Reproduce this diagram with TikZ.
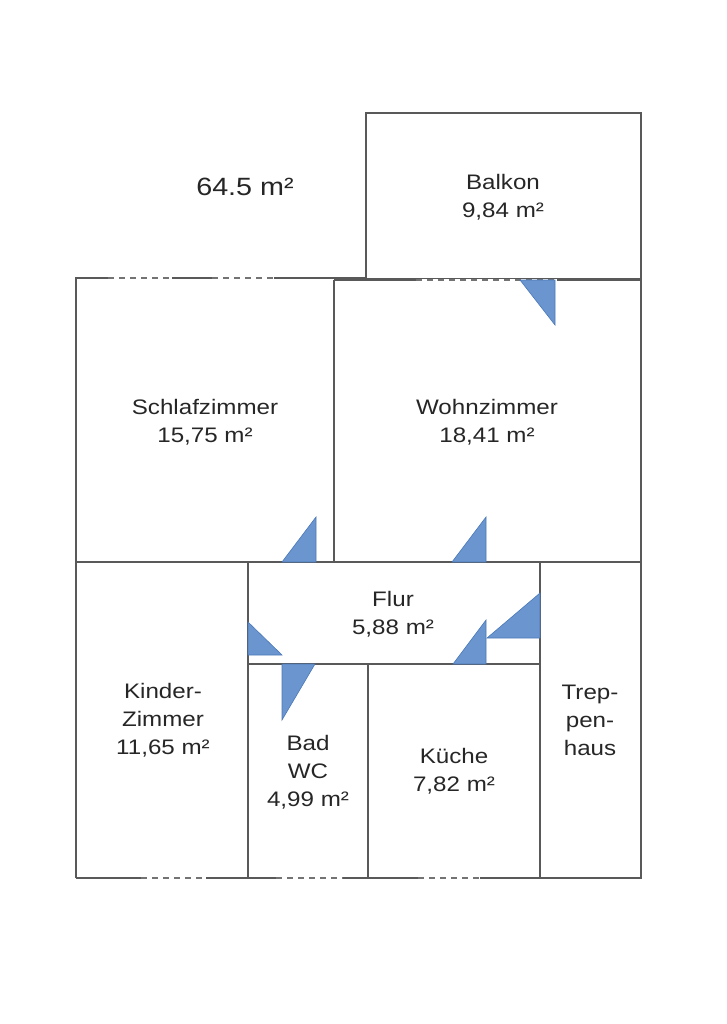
\documentclass[tikz,border=0pt]{standalone}
\usepackage{fontspec}
\setmainfont{Liberation Sans}
\begin{document}
\begin{tikzpicture}[x=1pt,y=-1pt,
  wall/.style={draw=black!65,line width=1.6pt},
  win/.style={draw=white,line width=2.4pt,postaction={draw=black!55,line width=1.6pt,dash pattern=on 6pt off 5pt}},
  door/.style={fill={rgb,255:red,106;green,149;blue,207},draw={rgb,255:red,74;green,120;blue,184},line width=0.6pt},
  lbl/.style={font=\fontsize{21}{28}\selectfont,align=center,text=black!85,xscale=1.15}]
\useasboundingbox (0,0) rectangle (726,1024);
% rooms
\draw[wall] (366,279) -- (366,113) -- (641,113) -- (641,279) -- (366,279);
\draw[wall] (76,878) -- (76,278) -- (366,278);
\draw[wall] (334,280) -- (641,280) -- (641,878) -- (76,878);
\draw[wall] (334,280) -- (334,562);
\draw[wall] (76,562) -- (641,562);
\draw[wall] (248,562) -- (248,878);
\draw[wall] (248,664) -- (540,664);
\draw[wall] (368,664) -- (368,878);
\draw[wall] (540,562) -- (540,878);
% windows
\draw[win] (108,278) -- (172,278);
\draw[win] (212,278) -- (274,278);
\draw[win] (416,280) -- (557,280);
\draw[win] (141,878) -- (206,878);
\draw[win] (276,878) -- (343,878);
\draw[win] (418,878) -- (480,878);
% doors
\path[door] (520,280) -- (555,280) -- (555,325) -- cycle;
\path[door] (282,562) -- (316,562) -- (316,517) -- cycle;
\path[door] (452,562) -- (486,562) -- (486,517) -- cycle;
\path[door] (248,622) -- (248,655) -- (282,655) -- cycle;
\path[door] (282,664) -- (315,664) -- (282,720) -- cycle;
\path[door] (453,664) -- (486,664) -- (486,620) -- cycle;
\path[door] (487,638) -- (540,638) -- (540,593) -- cycle;
% labels
\node[lbl,font=\fontsize{25}{30}\selectfont] (area) at (245,187) {64.5 m²};
\node[lbl] (balkon) at (503,197) {Balkon\\9,84 m²};
\node[lbl] (schlaf) at (205,422) {Schlafzimmer\\15,75 m²};
\node[lbl] (wohn) at (487,422) {Wohnzimmer\\18,41 m²};
\node[lbl] (flur) at (393,614) {Flur\\5,88 m²};
\node[lbl] (kinder) at (163,720) {Kinder-\\Zimmer\\11,65 m²};
\node[lbl] (bad) at (308,772) {Bad\\WC\\4,99 m²};
\node[lbl] (kueche) at (454,771) {Küche\\7,82 m²};
\node[lbl] (treppe) at (590,720) {Trep-\\pen-\\haus};
\end{tikzpicture}
\end{document}
